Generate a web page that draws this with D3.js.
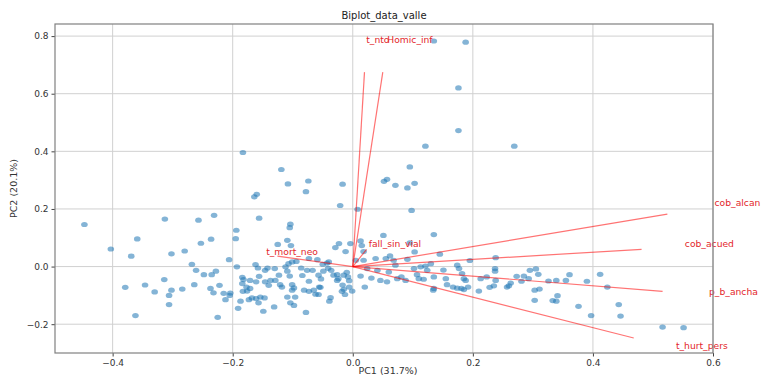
<!DOCTYPE html>
<html>
<head>
<meta charset="utf-8">
<script src="https://cdn.jsdelivr.net/npm/d3@7"></script>
<style>
  body { margin: 0; background: #fff; }
  svg { display: block; font-family: "DejaVu Sans", sans-serif; }
  .grid line { stroke: #d0d0d0; stroke-width: 1; }
  .axis path { display: none; }
  .axis line { stroke: #444; }
  .axis text { fill: #333; font-size: 9px; font-family: "DejaVu Sans", sans-serif; }
</style>
</head>
<body>
<svg id="chart" width="761" height="376"></svg>
<script>
// PCA scores
var pc1 = [
  0.188, 0.135, 0.176, 0.176, 0.121, 0.269, 0.095, 0.057, 0.052, 0.071,
  0.091, 0.103, -0.183, -0.119, -0.108, -0.074, -0.017, -0.078, -0.160, -0.164,
  -0.021, 0.008, 0.098, -0.231, -0.257, -0.313, -0.156, -0.447, -0.104, -0.105,
  -0.194, -0.195, -0.236, -0.359, -0.253, -0.302, -0.280, -0.403, -0.369, -0.125,
  -0.109, -0.103, 0.051, 0.135, 0.095, -0.023, -0.029, -0.004, 0.013, 0.015,
  -0.012, 0.018, 0.103, 0.145, 0.238, -0.206, -0.379, -0.346, -0.330, -0.314,
  -0.302, -0.306, -0.306, -0.284, -0.362, -0.268, -0.261, -0.248, -0.235, -0.228,
  -0.264, -0.237, -0.232, -0.222, -0.215, -0.205, -0.212, -0.204, -0.225, -0.191,
  -0.193, -0.184, -0.182, -0.184, -0.177, -0.171, -0.171, -0.183, -0.176, -0.162,
  -0.158, -0.146, -0.142, -0.130, -0.112, -0.107, -0.101, -0.109, -0.161, -0.156,
  -0.146, -0.140, -0.137, -0.129, -0.121, -0.118, -0.101, -0.098, -0.187, -0.173,
  -0.168, -0.161, -0.154, -0.147, -0.157, -0.149, -0.131, -0.109, -0.104, -0.098,
  -0.078, -0.101, -0.096, -0.123, -0.105, -0.094, -0.086, -0.076, -0.084, -0.073,
  -0.073, -0.081, -0.065, -0.062, -0.056, -0.067, -0.057, -0.053, -0.050, -0.043,
  -0.049, -0.041, -0.036, -0.032, -0.037, -0.039, -0.026, -0.017, -0.015, -0.018,
  -0.008, -0.006, -0.001, -0.010, -0.073, -0.059, -0.040, -0.054, -0.024, -0.026,
  -0.015, -0.006, -0.013, -0.057, 0.005, 0.018, 0.038, 0.055, 0.068, 0.091,
  0.071, 0.081, 0.074, 0.088, 0.060, 0.041, 0.024, 0.013, 0.020, 0.031,
  0.046, 0.057, 0.062, 0.102, 0.113, 0.121, 0.130, 0.124, 0.107, 0.110,
  0.118, 0.135, 0.151, 0.174, 0.177, 0.195, 0.237, 0.237, 0.155, 0.185,
  0.188, 0.213, 0.223, 0.238, 0.157, 0.192, 0.167, 0.174, 0.181, 0.185,
  0.135, 0.134, 0.210, 0.228, 0.235, 0.260, 0.273, 0.281, 0.285, 0.293,
  0.295, 0.305, 0.309, 0.326, 0.339, 0.355, 0.361, 0.390, 0.412, 0.424,
  0.263, 0.257, 0.303, 0.311, 0.303, 0.341, 0.333, 0.339, 0.376, 0.397,
  0.443, 0.446, 0.516, 0.551, 0.182
];
var pc2 = [
  0.779, 0.783, 0.620, 0.472, 0.418, 0.418, 0.346, 0.303, 0.296, 0.282,
  0.273, 0.289, 0.396, 0.337, 0.287, 0.297, 0.286, 0.260, 0.251, 0.242,
  0.212, 0.199, 0.195, 0.178, 0.161, 0.165, 0.168, 0.146, 0.147, 0.135,
  0.126, 0.097, 0.095, 0.096, 0.081, 0.044, 0.054, 0.061, 0.036, 0.077,
  0.091, 0.073, 0.108, 0.111, 0.082, 0.080, 0.066, 0.080, 0.089, 0.073,
  0.052, 0.052, 0.051, 0.043, 0.031, 0.024, -0.072, -0.064, -0.088, -0.045,
  -0.082, -0.100, -0.132, -0.078, -0.170, 0.008, -0.013, -0.028, -0.028, -0.016,
  -0.063, -0.076, -0.091, -0.065, -0.093, -0.100, -0.115, -0.092, -0.176, -0.145,
  -0.001, -0.037, -0.045, -0.059, -0.071, -0.048, -0.076, -0.086, -0.085, 0.007,
  -0.005, -0.013, -0.005, -0.007, -0.001, 0.010, 0.016, -0.016, -0.053, -0.034,
  -0.053, -0.065, -0.048, -0.048, -0.063, -0.071, -0.063, -0.074, -0.120, -0.115,
  -0.109, -0.111, -0.106, -0.109, -0.126, -0.155, -0.140, -0.106, -0.126, -0.135,
  -0.159, -0.082, -0.106, -0.030, -0.033, 0.018, -0.005, -0.013, -0.031, -0.051,
  -0.086, -0.082, -0.082, -0.096, -0.071, -0.013, -0.030, -0.043, 0.008, 0.012,
  -0.016, -0.006, -0.013, -0.030, -0.108, -0.120, -0.048, -0.064, -0.079, -0.086,
  -0.036, -0.049, -0.085, -0.020, 0.028, 0.024, 0.016, -0.072, -0.042, -0.028,
  -0.030, -0.071, -0.097, -0.097, 0.022, 0.022, 0.028, 0.028, 0.022, 0.025,
  0.005, -0.036, -0.042, -0.048, -0.019, -0.013, -0.007, -0.033, -0.071, -0.040,
  -0.048, -0.053, 0.037, -0.007, -0.001, 0.002, 0.010, -0.013, -0.028, -0.042,
  -0.044, -0.036, -0.012, 0.005, -0.007, 0.021, -0.007, -0.016, -0.042, -0.042,
  -0.048, -0.042, -0.036, -0.048, -0.063, -0.071, -0.071, -0.075, -0.076, -0.080,
  -0.076, -0.082, -0.085, -0.072, -0.067, -0.067, -0.034, -0.051, -0.033, -0.042,
  -0.013, -0.008, -0.027, -0.050, -0.048, -0.048, -0.028, -0.051, -0.027, -0.071,
  -0.057, -0.071, -0.082, -0.078, -0.117, -0.101, -0.118, -0.120, -0.138, -0.170,
  -0.132, -0.172, -0.210, -0.212, -0.024
];

// loadings (arrows)
var varNames = ["t_nto", "Homic_inf", "fall_sin_vial", "t_mort_neo", "cob_alcan", "cob_acued", "p_b_ancha", "t_hurt_pers"];
var loadX = [0.0195, 0.050, 0.023, -0.1255, 0.524, 0.481, 0.516, 0.468];
var loadY = [0.675, 0.675, 0.060, 0.036, 0.182, 0.060, -0.086, -0.248];

var xTicks = [-0.4, -0.2, 0.0, 0.2, 0.4, 0.6];
var yTicks = [-0.2, 0.0, 0.2, 0.4, 0.6, 0.8];

var svg = d3.select("#chart");
var margin = {top: 24, right: 48, bottom: 23, left: 55};
var width = +svg.attr("width") - margin.left - margin.right;
var height = +svg.attr("height") - margin.top - margin.bottom;

var g = svg.append("g")
    .attr("transform", "translate(" + margin.left + "," + margin.top + ")");

var x = d3.scaleLinear().domain([-0.496, 0.6]).range([0, width]);
var y = d3.scaleLinear().domain([-0.3, 0.842]).range([height, 0]);

var fmt = d3.format(".1f");

// grid
g.append("g").attr("class", "grid")
  .selectAll("line").data(xTicks).enter().append("line")
    .attr("x1", function(d) { return x(d); })
    .attr("x2", function(d) { return x(d); })
    .attr("y1", 0).attr("y2", height);
g.append("g").attr("class", "grid")
  .selectAll("line").data(yTicks).enter().append("line")
    .attr("y1", function(d) { return y(d); })
    .attr("y2", function(d) { return y(d); })
    .attr("x1", 0).attr("x2", width);

// axes
g.append("g")
    .attr("class", "axis")
    .attr("transform", "translate(0," + height + ")")
    .call(d3.axisBottom(x).tickValues(xTicks).tickFormat(fmt).tickSize(3.5).tickPadding(3));
g.append("g")
    .attr("class", "axis")
    .call(d3.axisLeft(y).tickValues(yTicks).tickFormat(fmt).tickSize(3.5).tickPadding(3));

// scores
var scores = pc1.map(function(v, i) { return {x: v, y: pc2[i]}; });
g.append("g").selectAll("ellipse")
  .data(scores)
  .enter().append("ellipse")
    .attr("cx", function(d) { return x(d.x); })
    .attr("cy", function(d) { return y(d.y); })
    .attr("rx", 3.3)
    .attr("ry", 2.6)
    .attr("fill", "#1f77b4")
    .attr("fill-opacity", 0.55);

// loading vectors + labels
var loads = varNames.map(function(n, i) { return {name: n, x: loadX[i], y: loadY[i]}; });
g.append("g").selectAll("line")
  .data(loads)
  .enter().append("line")
    .attr("x1", x(0)).attr("y1", y(0))
    .attr("x2", function(d) { return x(d.x); })
    .attr("y2", function(d) { return y(d.y); })
    .attr("stroke", "#ff0000")
    .attr("stroke-opacity", 0.55)
    .attr("stroke-width", 1.2);

g.append("g").selectAll("text")
  .data(loads)
  .enter().append("text")
    .attr("x", function(d) { return x(d.x * 1.15); })
    .attr("y", function(d) { return y(d.y * 1.15); })
    .attr("fill", "#e3262b")
    .attr("font-size", "9.2px")
    .text(function(d) { return d.name; });

// frame
g.append("rect")
    .attr("width", width).attr("height", height)
    .attr("fill", "none")
    .attr("stroke", "#808080")
    .attr("stroke-width", 1.2);

// title and axis labels
svg.append("text")
    .attr("x", margin.left + width / 2).attr("y", 19)
    .attr("text-anchor", "middle")
    .attr("font-size", "10px").attr("fill", "#222")
    .text("Biplot_data_valle");
svg.append("text")
    .attr("x", margin.left + width / 2 + 4).attr("y", 374)
    .attr("text-anchor", "middle")
    .attr("font-size", "9.5px").attr("fill", "#333")
    .text("PC1 (31.7%)");
svg.append("text")
    .attr("transform", "translate(17," + (margin.top + height / 2) + ") rotate(-90)")
    .attr("text-anchor", "middle")
    .attr("font-size", "9.5px").attr("fill", "#333")
    .text("PC2 (20.1%)");
</script>
</body>
</html>
